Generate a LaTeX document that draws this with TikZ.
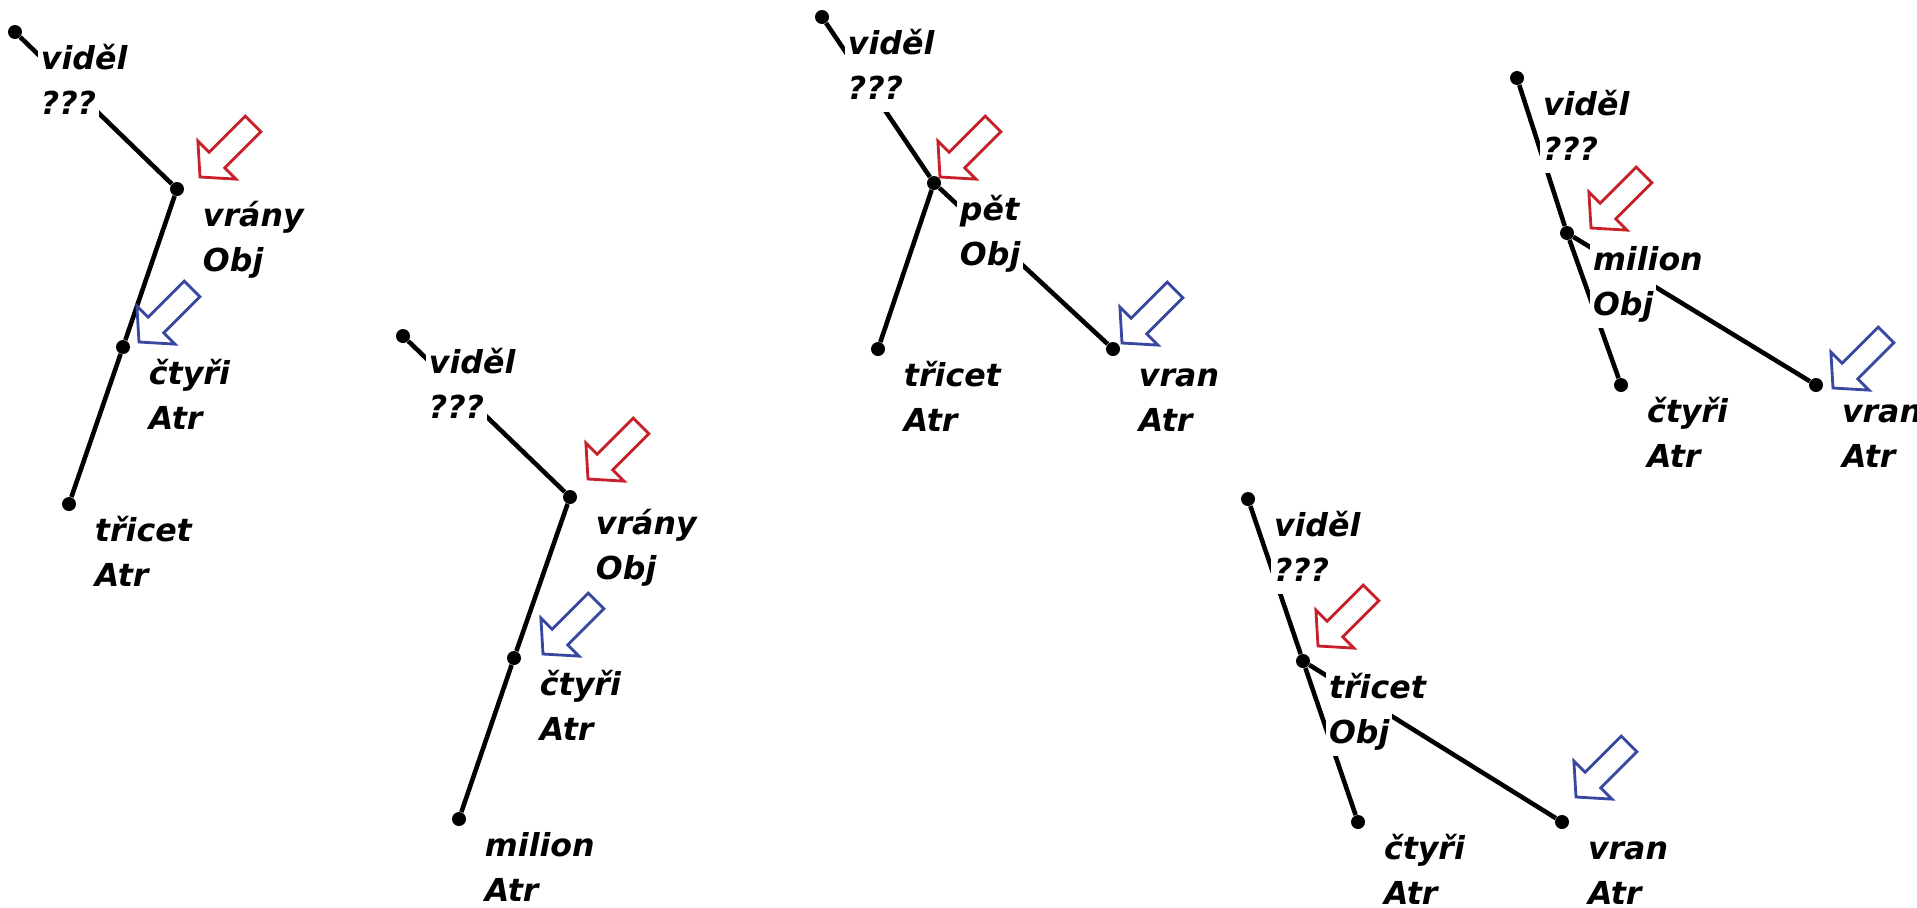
\documentclass[tikz,border=0pt]{standalone}
\usepackage{fontspec}
\newfontfamily\labfont{DejaVu Sans}
\usetikzlibrary{calc}
\definecolor{PointRed}{RGB}{200,32,42}
\definecolor{PointBlue}{RGB}{56,72,160}

\tikzset{
  dot/.style={circle, fill=black, inner sep=0pt, minimum size=0.28cm},
  edge/.style={line width=2.6pt},
  lab/.style={anchor=base west, fill=white, inner sep=1.5pt,
    text height=0.6cm, text depth=0.2cm,
    font=\labfont\bfseries\itshape\fontsize{18}{22}\selectfont},
  pics/pointer/.style={code={
    \draw[draw=#1, line width=1.6pt] (0,0) -- (24,27) -- (24,11) -- (75,11)
      -- (75,-11) -- (24,-11) -- (24,-27) -- cycle;
  }}
}

\begin{document}
\begin{tikzpicture}[x=0.02cm, y=-0.02cm]
\useasboundingbox (0,0) rectangle (1917,907);

% uzly
\foreach \n/\x/\y in {%
    r1/15/32, a1/177/189, b1/123/347, c1/69/504,
    r2/403/336, a2/570/497, b2/514/658, c2/459/819,
    r3/822/17, a3/934/183, b3/878/349, c3/1113/349,
    r4/1517/78, a4/1567/233, b4/1621/385, c4/1816/385,
    r5/1248/499, a5/1303/661, b5/1358/822, c5/1562/822}{%
    \node[dot] (\n) at (\x,\y) {};
}

% hrany
\foreach \a/\b in {r1/a1, a1/b1, b1/c1, r2/a2, a2/b2, b2/c2,
    r3/a3, a3/b3, a3/c3, r4/a4, a4/b4, a4/c4, r5/a5, a5/b5, a5/c5}
    \draw[edge] (\a) -- (\b);

% popisky
\foreach \n/\w/\f in {%
    r1/viděl/???, a1/vrány/Obj, b1/čtyři/Atr, c1/třicet/Atr,
    r2/viděl/???, a2/vrány/Obj, b2/čtyři/Atr, c2/milion/Atr,
    r3/viděl/???, a3/pět/Obj, b3/třicet/Atr, c3/vran/Atr,
    r4/viděl/???, a4/milion/Obj, b4/čtyři/Atr, c4/vran/Atr,
    r5/viděl/???, a5/třicet/Obj, b5/čtyři/Atr, c5/vran/Atr}{%
    \node[lab] (w\n) at ($(\n)+(23,37)$) {\w};
    \node[lab] (f\n) at ($(w\n.base west)+(0,45)$) {\f};
}

% šipky
\foreach \n/\dx/\dy/\c in {%
    a1/23/-12/PointRed, b1/16/-5/PointBlue,
    a2/18/-18/PointRed, b2/29/-4/PointBlue,
    a3/6/-6/PointRed, c3/9/-6/PointBlue,
    a4/24/-5/PointRed, c4/17/3/PointBlue,
    a5/15/-15/PointRed, c5/14/-25/PointBlue}
    \pic[rotate=45] at ($(\n)+(\dx,\dy)$) {pointer=\c};

\end{tikzpicture}
\end{document}
